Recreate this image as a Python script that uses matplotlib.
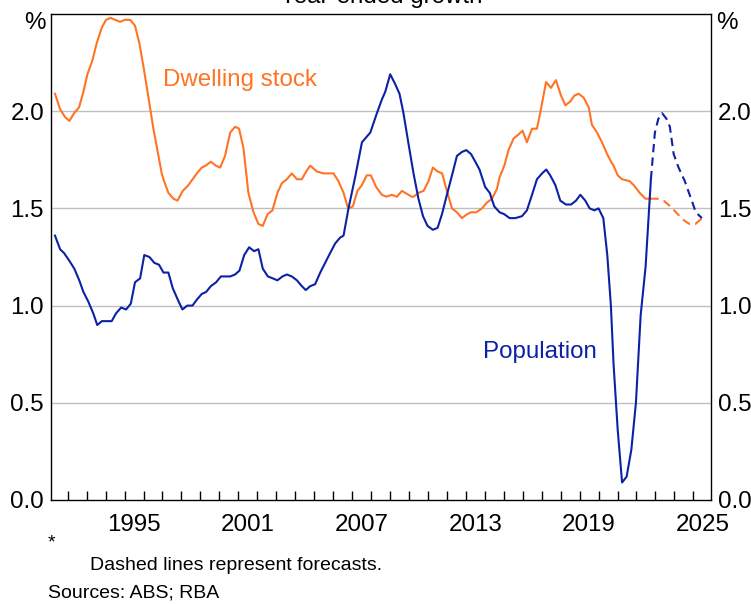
import matplotlib
matplotlib.use('Agg')
import matplotlib.pyplot as plt

plt.rcParams['font.family'] = ['Liberation Sans', 'DejaVu Sans']

# dwelling stock, year-ended growth, %
dw_year = [1991.33, 1991.60, 1991.86, 1992.09, 1992.34, 1992.60, 1992.83, 1993.04, 1993.30, 1993.53,
           1993.80, 1994.02, 1994.27, 1994.50, 1994.76, 1995.03, 1995.29, 1995.55, 1995.78, 1996.03,
           1996.26, 1996.52, 1996.73, 1996.96, 1997.05, 1997.31, 1997.58, 1997.79, 1998.07, 1998.37,
           1998.81, 1999.07, 1999.28, 1999.55, 1999.81, 2000.04, 2000.30, 2000.57, 2000.83, 2001.04,
           2001.27, 2001.53, 2001.80, 2002.06, 2002.29, 2002.54, 2002.80, 2003.06, 2003.30, 2003.56,
           2003.82, 2004.09, 2004.35, 2004.58, 2004.79, 2005.14, 2005.49, 2006.02, 2006.28, 2006.55,
           2006.79, 2007.04, 2007.28, 2007.52, 2007.77, 2007.99, 2008.27, 2008.57, 2008.80, 2009.10,
           2009.36, 2009.63, 2010.15, 2010.24, 2010.50, 2010.77, 2011.03, 2011.26, 2011.51, 2011.75,
           2012.00, 2012.27, 2012.53, 2012.79, 2013.06, 2013.27, 2013.55, 2013.85, 2014.11, 2014.38,
           2014.64, 2014.78, 2015.03, 2015.25, 2015.52, 2015.78, 2015.99, 2016.22, 2016.49, 2016.75,
           2016.96, 2017.23, 2017.49, 2017.75, 2018.02, 2018.25, 2018.51, 2018.72, 2018.95, 2019.21,
           2019.48, 2019.65, 2019.92, 2020.18, 2020.45, 2020.66, 2020.79, 2021.01, 2021.24, 2021.64,
           2021.85, 2022.17, 2022.47, 2022.73]
dw_val = [2.09, 2.01, 1.97, 1.95, 1.99, 2.02, 2.10, 2.19, 2.26, 2.35,
          2.43, 2.47, 2.48, 2.47, 2.46, 2.47, 2.47, 2.44, 2.35, 2.21,
          2.07, 1.91, 1.80, 1.68, 1.65, 1.58, 1.55, 1.54, 1.59, 1.62,
          1.68, 1.71, 1.72, 1.74, 1.72, 1.71, 1.77, 1.89, 1.92, 1.91,
          1.81, 1.58, 1.48, 1.42, 1.41, 1.47, 1.49, 1.58, 1.63, 1.65,
          1.68, 1.65, 1.65, 1.69, 1.72, 1.69, 1.68, 1.68, 1.64, 1.58,
          1.50, 1.51, 1.59, 1.62, 1.67, 1.67, 1.61, 1.57, 1.56, 1.57,
          1.56, 1.59, 1.56, 1.56, 1.58, 1.59, 1.64, 1.71, 1.69, 1.68,
          1.59, 1.50, 1.48, 1.45, 1.47, 1.48, 1.48, 1.50, 1.53, 1.55,
          1.60, 1.66, 1.72, 1.80, 1.86, 1.88, 1.90, 1.84, 1.91, 1.91,
          2.01, 2.15, 2.12, 2.16, 2.08, 2.03, 2.05, 2.08, 2.09, 2.07,
          2.02, 1.93, 1.89, 1.84, 1.78, 1.74, 1.72, 1.67, 1.65, 1.64,
          1.62, 1.58, 1.55, 1.55]
dw_fc_year = [2022.73, 2023.08, 2023.43, 2023.79, 2024.18, 2024.49, 2024.79, 2025.11, 2025.46]
dw_fc_val = [1.55, 1.55, 1.54, 1.51, 1.47, 1.44, 1.42, 1.42, 1.45]

# population, year-ended growth, %
pop_year = [1991.33, 1991.60, 1991.81, 1992.09, 1992.35, 1992.61, 1992.83, 1993.09, 1993.35, 1993.56,
            1993.80, 1994.06, 1994.32, 1994.55, 1994.82, 1995.08, 1995.33, 1995.55, 1995.82, 1996.04,
            1996.31, 1996.57, 1996.82, 1997.05, 1997.31, 1997.54, 1997.81, 1998.05, 1998.31, 1998.58,
            1998.81, 1999.07, 1999.30, 1999.55, 1999.83, 2000.08, 2000.30, 2000.57, 2000.83, 2001.06,
            2001.31, 2001.57, 2001.83, 2002.06, 2002.29, 2002.56, 2002.82, 2003.06, 2003.33, 2003.56,
            2003.82, 2004.09, 2004.35, 2004.56, 2004.79, 2005.05, 2005.32, 2005.58, 2005.84, 2006.11,
            2006.37, 2006.55, 2006.81, 2007.16, 2007.52, 2007.96, 2008.31, 2008.57, 2008.75, 2009.01,
            2009.27, 2009.50, 2009.71, 2009.98, 2010.24, 2010.50, 2010.74, 2010.98, 2011.26, 2011.51,
            2011.74, 2012.00, 2012.27, 2012.53, 2012.79, 2013.02, 2013.27, 2013.50, 2013.72, 2014.02,
            2014.26, 2014.50, 2014.78, 2015.03, 2015.31, 2015.61, 2015.96, 2016.22, 2016.49, 2016.75,
            2017.02, 2017.24, 2017.45, 2017.72, 2017.98, 2018.28, 2018.55, 2018.81, 2019.04, 2019.30,
            2019.53, 2019.78, 2020.00, 2020.25, 2020.46, 2020.65, 2020.79, 2021.01, 2021.24, 2021.48,
            2021.73, 2021.97, 2022.22, 2022.48, 2022.76]
pop_val = [1.36, 1.29, 1.27, 1.23, 1.19, 1.13, 1.07, 1.02, 0.96, 0.90,
           0.92, 0.92, 0.92, 0.96, 0.99, 0.98, 1.01, 1.12, 1.14, 1.26,
           1.25, 1.22, 1.21, 1.17, 1.17, 1.09, 1.03, 0.98, 1.00, 1.00,
           1.03, 1.06, 1.07, 1.10, 1.12, 1.15, 1.15, 1.15, 1.16, 1.18,
           1.26, 1.30, 1.28, 1.29, 1.19, 1.15, 1.14, 1.13, 1.15, 1.16,
           1.15, 1.13, 1.10, 1.08, 1.10, 1.11, 1.17, 1.22, 1.27, 1.32,
           1.35, 1.36, 1.50, 1.66, 1.84, 1.89, 1.99, 2.06, 2.10, 2.19,
           2.14, 2.09, 1.99, 1.83, 1.68, 1.55, 1.46, 1.41, 1.39, 1.40,
           1.47, 1.57, 1.67, 1.77, 1.79, 1.80, 1.78, 1.74, 1.70, 1.61,
           1.58, 1.51, 1.48, 1.47, 1.45, 1.45, 1.46, 1.49, 1.57, 1.65,
           1.68, 1.70, 1.67, 1.62, 1.54, 1.52, 1.52, 1.54, 1.57, 1.54,
           1.50, 1.49, 1.50, 1.45, 1.26, 1.00, 0.70, 0.36, 0.09, 0.12,
           0.26, 0.50, 0.95, 1.20, 1.65]
pop_fc_year = [2022.76, 2022.97, 2023.15, 2023.35, 2023.59, 2023.76, 2023.96, 2024.22, 2024.55, 2024.84,
               2025.13, 2025.45]
pop_fc_val = [1.65, 1.89, 1.96, 1.99, 1.96, 1.92, 1.78, 1.71, 1.64, 1.56, 1.48, 1.45]

orange = '#ff7424'
blue = '#0b22a6'
fs = 17.4

fig = plt.figure(figsize=(7.51, 6.04), dpi=100)
ax = fig.add_axes([51/751, 104/604, 660/751, 486/604])

ax.plot(dw_year, dw_val, color=orange, lw=1.5)
ax.plot(dw_fc_year, dw_fc_val, color=orange, lw=1.5, linestyle=(0, (4, 2.5)))
ax.plot(pop_year, pop_val, color=blue, lw=1.5)
ax.plot(pop_fc_year, pop_fc_val, color=blue, lw=1.5, linestyle=(0, (4, 2.5)))

ax.set_xlim(1991.12, 2025.93)
ax.set_ylim(0, 2.5)

# grid
for v in [0.5, 1.0, 1.5, 2.0]:
    ax.axhline(v, color='#c0c0c0', lw=1.0, zorder=0)

# y ticks both sides, no marks
ax.set_yticks([0, 0.5, 1.0, 1.5, 2.0])
ax.set_yticklabels(['0.0', '0.5', '1.0', '1.5', '2.0'])
ax.tick_params(axis='y', length=0, labelsize=fs, pad=5, labelleft=True, labelright=True)

# x: year ticks inward, labels centred on the year
ax.set_xticks(range(1992, 2026))
ax.set_xticklabels([])
ax.tick_params(axis='x', which='major', direction='in', length=6.5, width=1, color='black')
lab_years = [1995, 2001, 2007, 2013, 2019, 2025]
ax.set_xticks([y + 0.5 for y in lab_years], minor=True)
ax.set_xticklabels([str(y) for y in lab_years], minor=True)
ax.tick_params(axis='x', which='minor', length=0, labelsize=fs, pad=10)

for s in ax.spines.values():
    s.set_linewidth(1.0)
    s.set_color('black')

ax.text(-0.008, 0.982, '%', transform=ax.transAxes, ha='right', va='center', fontsize=fs)
ax.text(1.008, 0.982, '%', transform=ax.transAxes, ha='left', va='center', fontsize=fs)

ax.text(1997.03, 2.16, 'Dwelling stock', color=orange, fontsize=fs, va='center')
ax.text(2013.92, 0.76, 'Population', color=blue, fontsize=fs, va='center')

fig.text(0.5075, 1 - 3/604, 'Year-ended growth', ha='center', va='baseline', fontsize=fs)

fig.text(48/751, 1 - 543/604, '*', ha='left', va='center', fontsize=14)
fig.text(90/751, 1 - 565/604, 'Dashed lines represent forecasts.', ha='left', va='center', fontsize=14)
fig.text(48/751, 1 - 593/604, 'Sources: ABS; RBA', ha='left', va='center', fontsize=14)

fig.savefig('out.png', dpi=100)
